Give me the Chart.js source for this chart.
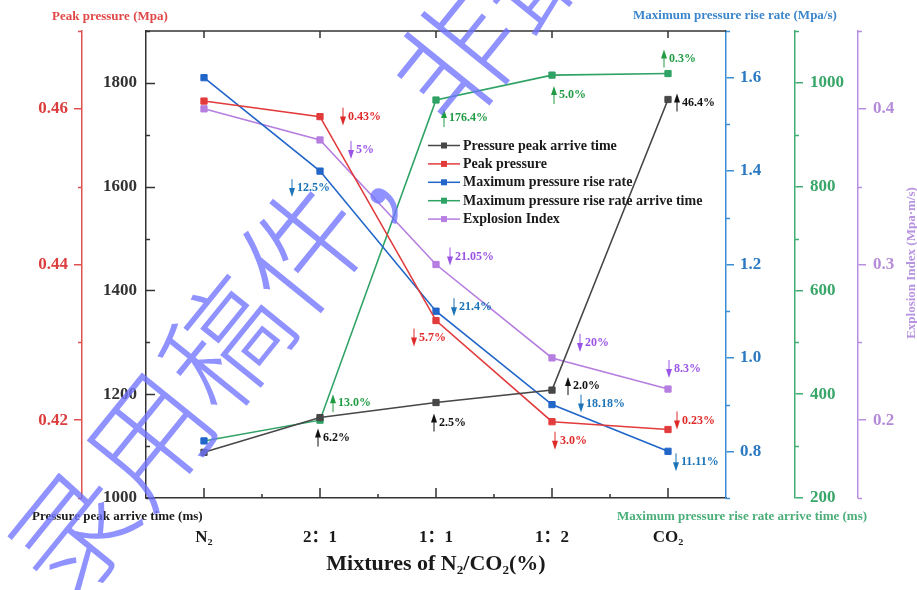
<!DOCTYPE html>
<html>
<head>
<meta charset="utf-8">
<script src="https://cdn.jsdelivr.net/npm/chart.js@4.4.0/dist/chart.umd.min.js"></script>
<style>
  body { margin: 0; background: #fff; }
</style>
</head>
<body>
<canvas id="myChart" width="917" height="590"></canvas>
<script>
// gas mixtures on the x axis
const mixtures = ['N₂', '2：1', '1：1', '1：2', 'CO₂'];

// measured values per mixture
const peakArriveTime = [1088, 1155, 1184, 1208, 1768];       // ms
const peakPressure = [0.461, 0.459, 0.4328, 0.4198, 0.4188]; // MPa
const maxRiseRate = [1.6, 1.4, 1.1, 0.9, 0.8];               // MPa/s
const riseRateArriveTime = [310, 350, 967, 1015, 1018];      // ms
const explosionIndex = [0.4, 0.38, 0.30, 0.24, 0.22];        // MPa·m/s

// change against the previous mixture
const timeChange = ['', '6.2%', '2.5%', '2.0%', '46.4%'];
const pressureChange = ['', '0.43%', '5.7%', '3.0%', '0.23%'];
const rateChange = ['', '12.5%', '21.4%', '18.18%', '11.11%'];
const rateTimeChange = ['', '13.0%', '176.4%', '5.0%', '0.3%'];
const indexChange = ['', '5%', '21.05%', '20%', '8.3%'];

// labelled ticks of each y axis
const timeTicks = [1000, 1200, 1400, 1600, 1800];
const pressureTicks = [0.42, 0.44, 0.46];
const rateTicks = [0.8, 1.0, 1.2, 1.4, 1.6];
const rateTimeTicks = [200, 400, 600, 800, 1000];
const indexTicks = [0.2, 0.3, 0.4];

const serif = '"Liberation Serif", "Times New Roman", "Noto Sans CJK SC", serif';
const colors = {
  time: '#474747', pressure: '#e23b3b', rate: '#2166c8', rateTime: '#2fa265', index: '#b57ee0'
};

// where each change note sits relative to its point: [arrow dx, text dy]
const noteLayout = [
  { set: 0, up: true, text: timeChange, color: '#111', pos: [null, [-2, 20], [-2, 20], [16, -4], [9, 3]] },
  { set: 1, up: false, text: pressureChange, color: '#e02a2a', pos: [null, [23, 0], [-22, 17], [3, 19], [9, -9]] },
  { set: 2, up: false, text: rateChange, color: '#1b74b8', pos: [null, [-28, 17], [18, -4], [29, -1], [8, 11]] },
  { set: 3, up: true, text: rateTimeChange, color: '#219c45', pos: [null, [13, -17], [8, 18], [2, 20], [-4, -15]] },
  { set: 4, up: false, text: indexChange, color: '#9a55e6', pos: [null, [31, 10], [14, -8], [28, -15], [1, -20]] }
];

function fixedTicks(values) {
  return scale => { scale.ticks = values.map(v => ({ value: v })); };
}

function drawArrow(ctx, x, y, up, color) {
  const d = up ? -1 : 1;
  ctx.strokeStyle = color;
  ctx.fillStyle = color;
  ctx.lineWidth = 1;
  ctx.beginPath();
  ctx.moveTo(x, y - 9 * d);
  ctx.lineTo(x, y + 2 * d);
  ctx.stroke();
  ctx.beginPath();
  ctx.moveTo(x, y + 9 * d);
  ctx.lineTo(x - 3, y);
  ctx.lineTo(x + 3, y);
  ctx.closePath();
  ctx.fill();
}

// short half-step ticks between the labelled ones
function minorTicks(ctx, scale, values, dir, len) {
  const step = values[1] - values[0];
  const xa = scale.position === 'left' ? scale.right : scale.left;
  for (let i = -1; i < values.length + 1; i++) {
    const v = values[0] + (i + 0.5) * step;
    if (v < scale.min - 1e-9 || v > scale.max + 1e-9) continue;
    const y = Math.round(scale.getPixelForValue(v)) + 0.5;
    ctx.beginPath();
    ctx.moveTo(xa, y);
    ctx.lineTo(xa + dir * len, y);
    ctx.stroke();
  }
}

const decor = {
  id: 'decor',
  afterDatasetsDraw(chart) {
    const { ctx, chartArea: ca, scales } = chart;
    ctx.save();
    ctx.lineWidth = 1.5;

    // top frame with category ticks
    ctx.strokeStyle = '#333';
    ctx.beginPath();
    ctx.moveTo(ca.left, ca.top);
    ctx.lineTo(ca.right, ca.top);
    ctx.stroke();
    const xs = scales.x;
    mixtures.forEach((m, i) => {
      const x = xs.getPixelForValue(i);
      ctx.beginPath();
      ctx.moveTo(x, ca.top);
      ctx.lineTo(x, ca.top + 7);
      ctx.moveTo(x, ca.bottom);
      ctx.lineTo(x, ca.bottom - 10);
      ctx.stroke();
    });
    const band = (xs.getPixelForValue(1) - xs.getPixelForValue(0));
    for (let i = 1; i < mixtures.length; i++) {
      const x = xs.getPixelForValue(i) - band / 2;
      ctx.beginPath();
      ctx.moveTo(x, ca.bottom);
      ctx.lineTo(x, ca.bottom - 4);
      ctx.stroke();
    }

    // inward ticks on the time axis
    const yt = scales.yTime;
    timeTicks.forEach(v => {
      const y = Math.round(yt.getPixelForValue(v)) + 0.5;
      ctx.beginPath();
      ctx.moveTo(yt.right, y);
      ctx.lineTo(yt.right + 9, y);
      ctx.stroke();
    });
    minorTicks(ctx, yt, timeTicks, 1, 4);

    ctx.strokeStyle = '#e05050';
    minorTicks(ctx, scales.yPressure, pressureTicks, -1, 4);
    ctx.strokeStyle = '#3b8ed4';
    minorTicks(ctx, scales.yRate, rateTicks, 1, 4);
    ctx.strokeStyle = '#40ad73';
    minorTicks(ctx, scales.yRateTime, rateTimeTicks, 1, 4);
    ctx.strokeStyle = '#b88ee0';
    minorTicks(ctx, scales.yIndex, indexTicks, 1, 4);
    ctx.restore();
  },
  afterDraw(chart) {
    const { ctx, chartArea: ca } = chart;
    ctx.save();

    // axis titles
    ctx.font = 'bold 13px ' + serif;
    ctx.textBaseline = 'middle';
    ctx.textAlign = 'left';
    ctx.fillStyle = '#e04848';
    ctx.fillText('Peak pressure (Mpa)', 52, 17);
    ctx.fillStyle = '#3c86cc';
    ctx.fillText('Maximum pressure rise rate (Mpa/s)', 633, 16);
    ctx.fillStyle = '#1a1a1a';
    ctx.fillText('Pressure peak arrive time (ms)', 32, 517);
    ctx.fillStyle = '#4cae7a';
    ctx.fillText('Maximum pressure rise rate arrive time (ms)', 617, 517);
    ctx.save();
    ctx.translate(912, 263);
    ctx.rotate(-Math.PI / 2);
    ctx.textAlign = 'center';
    ctx.fillStyle = '#b794e0';
    ctx.fillText('Explosion Index (Mpa·m/s)', 0, 0);
    ctx.restore();

    // legend inside the plot
    chart.data.datasets.forEach((ds, i) => {
      const y = ca.top + 114.5 + i * 18.4;
      const x = ca.left + 282;
      ctx.strokeStyle = ds.borderColor;
      ctx.lineWidth = 1.5;
      ctx.beginPath();
      ctx.moveTo(x, y);
      ctx.lineTo(x + 32, y);
      ctx.stroke();
      ctx.fillStyle = ds.borderColor;
      ctx.fillRect(x + 13, y - 3, 6, 6);
      ctx.fillStyle = '#1a1a1a';
      ctx.font = 'bold 14px ' + serif;
      ctx.fillText(ds.label, x + 35, y + 0.5);
    });

    // change notes beside the points
    ctx.font = 'bold 12px ' + serif;
    noteLayout.forEach(n => {
      const meta = chart.getDatasetMeta(n.set);
      n.text.forEach((t, i) => {
        if (!t) return;
        const p = meta.data[i];
        const ax = p.x + n.pos[i][0];
        const ty = p.y + n.pos[i][1];
        drawArrow(ctx, ax, ty, n.up, n.color);
        ctx.fillStyle = n.color;
        ctx.fillText(t, ax + 5, ty);
      });
    });

    // diagonal review stamp across the figure
    ctx.save();
    ctx.translate(34, 580);
    ctx.rotate(-51 * Math.PI / 180);
    ctx.font = '300 122px "Noto Sans CJK SC"';
    ctx.textBaseline = 'middle';
    ctx.fillStyle = 'rgba(112, 115, 255, 0.78)';
    ctx.fillText('录用稿件，非最终出版稿', 0, 0);
    ctx.restore();

    ctx.restore();
  }
};

function yAxis(opts) {
  return {
    type: 'linear',
    min: opts.min,
    max: opts.max,
    position: opts.position,
    weight: opts.weight,
    afterBuildTicks: fixedTicks(opts.ticks),
    afterFit: scale => { scale.width = opts.width; },
    border: { display: true, color: opts.line, width: 1.5 },
    grid: {
      display: opts.outTicks,
      drawOnChartArea: false,
      drawTicks: opts.outTicks,
      tickLength: 8,
      color: opts.line,
      lineWidth: 1.5
    },
    ticks: {
      color: opts.label,
      padding: opts.padding,
      font: { family: serif, size: 17, weight: 'bold' },
      callback: v => opts.format(v)
    }
  };
}

const ctx = document.getElementById('myChart').getContext('2d');
const myChart = new Chart(ctx, {
  type: 'line',
  data: {
    labels: mixtures,
    datasets: [
      {
        label: 'Pressure peak arrive time',
        data: peakArriveTime,
        yAxisID: 'yTime',
        borderColor: colors.time,
        backgroundColor: colors.time
      },
      {
        label: 'Peak pressure',
        data: peakPressure,
        yAxisID: 'yPressure',
        borderColor: colors.pressure,
        backgroundColor: colors.pressure
      },
      {
        label: 'Maximum pressure rise rate',
        data: maxRiseRate,
        yAxisID: 'yRate',
        borderColor: colors.rate,
        backgroundColor: colors.rate
      },
      {
        label: 'Maximum pressure rise rate arrive time',
        data: riseRateArriveTime,
        yAxisID: 'yRateTime',
        borderColor: colors.rateTime,
        backgroundColor: colors.rateTime,
        // first marker sits under the rise-rate colour
        pointBackgroundColor: [colors.rate, colors.rateTime, colors.rateTime, colors.rateTime, colors.rateTime],
        pointBorderColor: [colors.rate, colors.rateTime, colors.rateTime, colors.rateTime, colors.rateTime]
      },
      {
        label: 'Explosion Index',
        data: explosionIndex,
        yAxisID: 'yIndex',
        borderColor: colors.index,
        backgroundColor: colors.index
      }
    ]
  },
  options: {
    responsive: false,
    animation: false,
    devicePixelRatio: 1,
    layout: { padding: { left: 30, right: 14, top: 31, bottom: 0 } },
    elements: {
      line: { borderWidth: 1.6, tension: 0 },
      point: { pointStyle: 'rect', radius: 4.4, borderWidth: 1 }
    },
    plugins: {
      legend: { display: false },
      tooltip: { enabled: false }
    },
    scales: {
      x: {
        type: 'category',
        position: 'bottom',
        offset: true,
        afterFit: scale => { scale.height = 92; },
        border: { display: true, color: '#333', width: 1.5 },
        grid: { display: false, drawTicks: false },
        ticks: {
          color: '#1a1a1a',
          padding: 29,
          maxRotation: 0,
          font: { family: serif, size: 17, weight: 'bold' }
        },
        title: {
          display: true,
          text: 'Mixtures of N₂/CO₂(%)',
          color: '#1a1a1a',
          padding: { top: 0, bottom: 12 },
          font: { family: serif, size: 22, weight: 'bold' }
        }
      },
      yTime: yAxis({
        min: 1000, max: 1900, position: 'left', weight: 1, width: 64, ticks: timeTicks,
        line: '#333', label: '#333', padding: 9, outTicks: false, format: v => v
      }),
      yPressure: yAxis({
        min: 0.41, max: 0.47, position: 'left', weight: 2, width: 52, ticks: pressureTicks,
        line: '#e05050', label: '#dc3d3d', padding: 6, outTicks: true, format: v => v.toFixed(2)
      }),
      yRate: yAxis({
        min: 0.7, max: 1.7, position: 'right', weight: 1, width: 69, ticks: rateTicks,
        line: '#3b8ed4', label: '#2b79c2', padding: 6, outTicks: true, format: v => v.toFixed(1)
      }),
      yRateTime: yAxis({
        min: 200, max: 1100, position: 'right', weight: 2, width: 63, ticks: rateTimeTicks,
        line: '#40ad73', label: '#38a669', padding: 7, outTicks: true, format: v => v
      }),
      yIndex: yAxis({
        min: 0.15, max: 0.45, position: 'right', weight: 3, width: 45, ticks: indexTicks,
        line: '#b88ee0', label: '#b48bd8', padding: 7, outTicks: true, format: v => v.toFixed(1)
      })
    }
  },
  plugins: [decor]
});
</script>
</body>
</html>
